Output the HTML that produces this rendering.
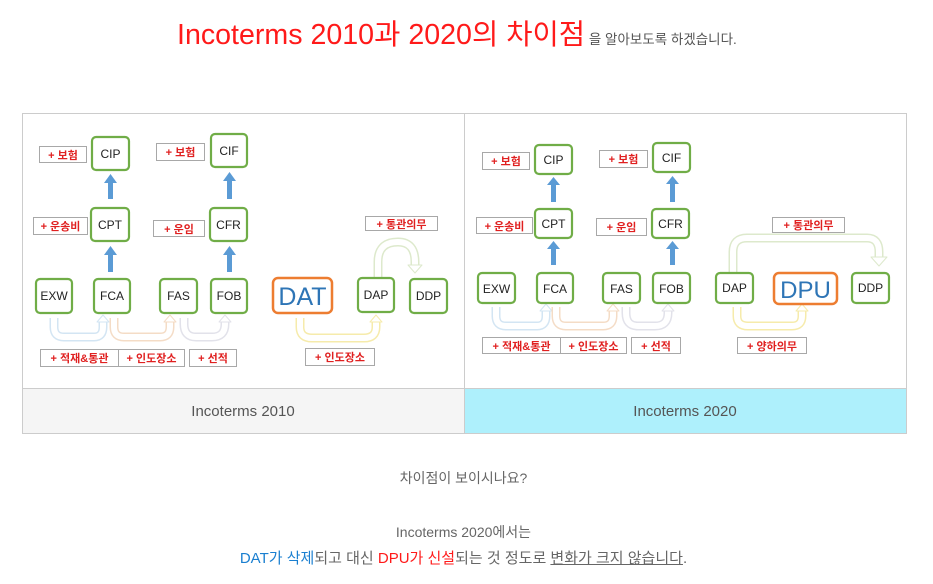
<!DOCTYPE html>
<html><head><meta charset="utf-8"><style>
body{margin:0;width:933px;height:584px;background:#fff;position:relative;overflow:hidden;font-family:"Liberation Sans","Noto Sans CJK KR",sans-serif}
.t{position:absolute;white-space:nowrap}
</style></head><body>
<div class="t" style="left:177px;top:12px;font-size:28.6px;color:#ff1a1a;">Incoterms 2010과 2020의 차이점<span style="font-size:13.5px;color:#555"> 을 알아보도록 하겠습니다.</span></div>

<svg width="933" height="584" style="position:absolute;left:0;top:0" font-family="Liberation Sans, Noto Sans CJK KR, sans-serif">
<rect x="22.5" y="113.5" width="884" height="320" fill="#fff" stroke="#ccc"/>
<line x1="464.5" y1="113" x2="464.5" y2="433" stroke="#ccc"/>
<rect x="23" y="389" width="441" height="44" fill="#f5f5f5"/>
<rect x="465" y="389" width="441" height="44" fill="#aef0fc"/>
<line x1="22" y1="388.5" x2="907" y2="388.5" stroke="#ccc"/>
<text x="243" y="416" font-size="15" fill="#555" text-anchor="middle">Incoterms 2010</text>
<text x="685" y="416" font-size="15" fill="#555" text-anchor="middle">Incoterms 2020</text>

<g fill="none" stroke-linejoin="round">
<g stroke="#d3e5f3"><path d="M54,318 V327 Q54,337 64,337 H94 Q103,337 103,327 V322" stroke-width="9"/><path d="M54,318 V327 Q54,337 64,337 H94 Q103,337 103,327 V322" stroke="#fff" stroke-width="6"/><path d="M97,322 L103,315 L109,322 Z" fill="#fff"/></g>
<g stroke="#f4dcc6"><path d="M114,318 V327 Q114,337 124,337 H160 Q170,337 170,327 V322" stroke-width="9"/><path d="M114,318 V327 Q114,337 124,337 H160 Q170,337 170,327 V322" stroke="#fff" stroke-width="6"/><path d="M164,322 L170,315 L176,322 Z" fill="#fff"/></g>
<g stroke="#e2e2ea"><path d="M184,318 V324 Q184,337 196,337 H212 Q225,337 225,324 V322" stroke-width="9"/><path d="M184,318 V324 Q184,337 196,337 H212 Q225,337 225,324 V322" stroke="#fff" stroke-width="6"/><path d="M219,322 L225,315 L231,322 Z" fill="#fff"/></g>
<g stroke="#f6ebab"><path d="M300,318 V327 Q300,338 312,338 H364 Q376,338 376,327 V322" stroke-width="9"/><path d="M300,318 V327 Q300,338 312,338 H364 Q376,338 376,327 V322" stroke="#fff" stroke-width="6"/><path d="M370,322 L376,315 L382,322 Z" fill="#fff"/></g>
<g stroke="#dde9cc"><path d="M378,278 V262 Q378,242 398,242 Q415,242 415,262 V266" stroke-width="9"/><path d="M378,278 V262 Q378,242 398,242 Q415,242 415,262 V266" stroke="#fff" stroke-width="6"/><path d="M408,265 L415,273 L422,265 Z" fill="#fff"/></g>

<g stroke="#d3e5f3"><path d="M496,307 V316 Q496,326 506,326 H537 Q546,326 546,316 V311" stroke-width="9"/><path d="M496,307 V316 Q496,326 506,326 H537 Q546,326 546,316 V311" stroke="#fff" stroke-width="6"/><path d="M540,311 L546,304 L552,311 Z" fill="#fff"/></g>
<g stroke="#f4dcc6"><path d="M556,307 V316 Q556,326 566,326 H603 Q613,326 613,316 V311" stroke-width="9"/><path d="M556,307 V316 Q556,326 566,326 H603 Q613,326 613,316 V311" stroke="#fff" stroke-width="6"/><path d="M607,311 L613,304 L619,311 Z" fill="#fff"/></g>
<g stroke="#e2e2ea"><path d="M626,307 V313 Q626,326 638,326 H655 Q668,326 668,313 V311" stroke-width="9"/><path d="M626,307 V313 Q626,326 638,326 H655 Q668,326 668,313 V311" stroke="#fff" stroke-width="6"/><path d="M662,311 L668,304 L674,311 Z" fill="#fff"/></g>
<g stroke="#f6ebab"><path d="M737,307 V316 Q737,326 748,326 H792 Q802,326 802,316 V311" stroke-width="9"/><path d="M737,307 V316 Q737,326 748,326 H792 Q802,326 802,316 V311" stroke="#fff" stroke-width="6"/><path d="M796,311 L802,304 L808,311 Z" fill="#fff"/></g>
<g stroke="#dde9cc"><path d="M733,272 V252 Q733,238 747,238 H867 Q879,238 879,252 V257" stroke-width="9"/><path d="M733,272 V252 Q733,238 747,238 H867 Q879,238 879,252 V257" stroke="#fff" stroke-width="6"/><path d="M871,257 L879,266 L887,257 Z" fill="#fff"/></g>
</g>

<g fill="#5b9bd5">
<rect x="108" y="182" width="5" height="17"/><path d="M104,183 L110.5,174 L117,183 Z"/>
<rect x="108" y="254" width="5" height="18"/><path d="M104,255 L110.5,246 L117,255 Z"/>
<rect x="227" y="180" width="5" height="19"/><path d="M223,181 L229.5,172 L236,181 Z"/>
<rect x="227" y="254" width="5" height="18"/><path d="M223,255 L229.5,246 L236,255 Z"/>
<rect x="551" y="184" width="5" height="18"/><path d="M547,185 L553.5,177 L560,185 Z"/>
<rect x="551" y="248" width="5" height="17"/><path d="M547,249 L553.5,241 L560,249 Z"/>
<rect x="670" y="183" width="5" height="19"/><path d="M666,184 L672.5,176 L679,184 Z"/>
<rect x="670" y="248" width="5" height="17"/><path d="M666,249 L672.5,241 L679,249 Z"/>
</g>

<g fill="#fff" stroke="#70ad47" stroke-width="2.2">
<rect x="92" y="137" width="37" height="33" rx="4"/>
<rect x="211" y="134" width="36" height="33" rx="4"/>
<rect x="91" y="208" width="38" height="33" rx="4"/>
<rect x="210" y="208" width="37" height="33" rx="4"/>
<rect x="36" y="279" width="36" height="34" rx="4"/>
<rect x="94" y="279" width="36" height="34" rx="4"/>
<rect x="160" y="279" width="37" height="34" rx="4"/>
<rect x="211" y="279" width="36" height="34" rx="4"/>
<rect x="358" y="278" width="36" height="34" rx="4"/>
<rect x="410" y="279" width="37" height="34" rx="4"/>
<rect x="535" y="145" width="37" height="29" rx="4"/>
<rect x="653" y="143" width="37" height="29" rx="4"/>
<rect x="535" y="209" width="37" height="29" rx="4"/>
<rect x="652" y="209" width="37" height="29" rx="4"/>
<rect x="478" y="273" width="37" height="30" rx="4"/>
<rect x="537" y="273" width="36" height="30" rx="4"/>
<rect x="603" y="273" width="37" height="30" rx="4"/>
<rect x="653" y="273" width="37" height="30" rx="4"/>
<rect x="716" y="273" width="37" height="30" rx="4"/>
<rect x="852" y="273" width="37" height="30" rx="4"/>
</g>
<g fill="#fff" stroke="#ed7d31" stroke-width="2.5">
<rect x="273" y="278" width="59" height="35" rx="5"/>
<rect x="774" y="273" width="63" height="31" rx="5"/>
</g>
<g font-size="12" fill="#222" text-anchor="middle">
<text x="110.5" y="158">CIP</text><text x="229" y="155">CIF</text>
<text x="110" y="229">CPT</text><text x="228.5" y="229">CFR</text>
<text x="54" y="300">EXW</text><text x="112" y="300">FCA</text><text x="178.5" y="300">FAS</text><text x="229" y="300">FOB</text>
<text x="376" y="299">DAP</text><text x="428.5" y="300">DDP</text>
<text x="553.5" y="164">CIP</text><text x="671.5" y="162">CIF</text>
<text x="553.5" y="228">CPT</text><text x="670.5" y="228">CFR</text>
<text x="496.5" y="293">EXW</text><text x="555" y="293">FCA</text><text x="621.5" y="293">FAS</text><text x="671.5" y="293">FOB</text>
<text x="734.5" y="292">DAP</text><text x="870.5" y="292">DDP</text>
</g>
<text x="302.5" y="305" font-size="25" fill="#2e75b6" text-anchor="middle">DAT</text>
<text x="805.5" y="298" font-size="24" fill="#2e75b6" text-anchor="middle">DPU</text>

<g fill="#fff" stroke="#a8a8a8" stroke-width="1">
<rect x="39.5" y="146.5" width="47" height="16"/><rect x="156.5" y="143.5" width="48" height="17"/>
<rect x="33.5" y="217.5" width="54" height="17"/><rect x="153.5" y="220.5" width="51" height="16"/>
<rect x="365.5" y="216.5" width="72" height="14"/>
<rect x="40.5" y="349.5" width="78" height="17"/><rect x="118.5" y="349.5" width="66" height="17"/><rect x="189.5" y="349.5" width="47" height="17"/>
<rect x="305.5" y="348.5" width="69" height="17"/>
<rect x="482.5" y="152.5" width="47" height="17"/><rect x="599.5" y="150.5" width="48" height="17"/>
<rect x="476.5" y="217.5" width="56" height="16"/><rect x="596.5" y="218.5" width="50" height="17"/>
<rect x="772.5" y="217.5" width="72" height="15"/>
<rect x="482.5" y="337.5" width="78" height="16"/><rect x="560.5" y="337.5" width="66" height="16"/><rect x="631.5" y="337.5" width="49" height="16"/>
<rect x="737.5" y="337.5" width="69" height="16"/>
</g>
<g font-size="11" font-weight="bold" fill="#e02020" text-anchor="middle">
<text x="63" y="159">+ 보험</text><text x="180.5" y="156">+ 보험</text>
<text x="60.5" y="230">+ 운송비</text><text x="179" y="233">+ 운임</text>
<text x="401.5" y="228">+ 통관의무</text>
<text x="79.5" y="362">+ 적재&amp;통관</text><text x="151.5" y="362">+ 인도장소</text><text x="213" y="362">+ 선적</text>
<text x="340" y="361">+ 인도장소</text>
<text x="506" y="165">+ 보험</text><text x="623.5" y="163">+ 보험</text>
<text x="504.5" y="230">+ 운송비</text><text x="621.5" y="231">+ 운임</text>
<text x="808.5" y="229">+ 통관의무</text>
<text x="521.5" y="350">+ 적재&amp;통관</text><text x="593.5" y="350">+ 인도장소</text><text x="656" y="350">+ 선적</text>
<text x="772" y="350">+ 양하의무</text>
</g>
</svg>

<div class="t" style="left:0;width:927px;text-align:center;top:468px;font-size:14px;color:#666">차이점이 보이시나요?</div>
<div class="t" style="left:0;width:927px;text-align:center;top:522px;font-size:14px;color:#666">Incoterms 2020에서는</div>
<div class="t" style="left:0;width:927px;text-align:center;top:547px;font-size:15px;color:#666"><span style="color:#1a7fd0">DAT가 삭제</span>되고 대신 <span style="color:#ff1a1a">DPU가 신설</span>되는 것 정도로 <u>변화가 크지 않습니다</u>.</div>
</body></html>
